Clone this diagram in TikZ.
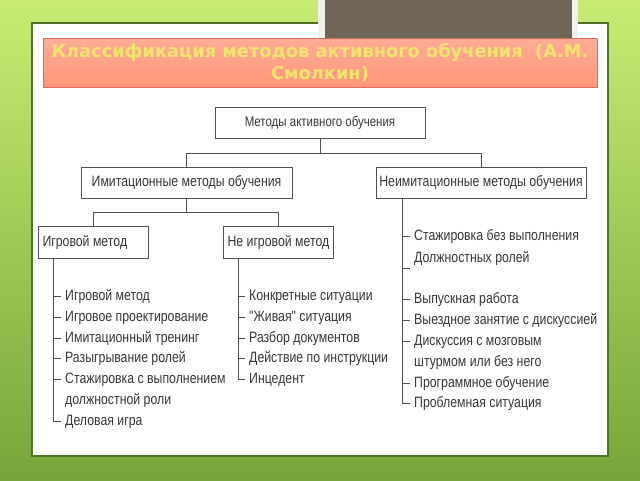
\documentclass[tikz,border=0pt]{standalone}
\usepackage{fontspec}
\setmainfont{Liberation Sans}
\newfontfamily\narrowfont{Liberation Sans}[FakeStretch=0.82]
\newfontfamily\titlefont{DejaVu Sans}
\definecolor{bgtop}{RGB}{200,236,115}
\definecolor{bgbot}{RGB}{118,166,58}
\definecolor{panelborder}{RGB}{80,115,40}
\definecolor{framewhite}{RGB}{242,242,236}
\definecolor{greybox}{RGB}{111,102,87}
\definecolor{titleborder}{RGB}{225,105,100}
\definecolor{titletop}{RGB}{255,172,150}
\definecolor{titlemid}{RGB}{255,205,180}
\definecolor{titlebot}{RGB}{255,150,122}
\definecolor{titletext}{RGB}{240,228,110}
\definecolor{txt}{RGB}{55,55,55}
\definecolor{boxline}{RGB}{80,80,80}
\begin{document}
\begin{tikzpicture}[x=1pt,y=-1pt,
  box/.style={draw=boxline, line width=0.8pt, fill=white, minimum height=31pt,
    inner sep=0pt, font=\narrowfont\fontsize{15}{17}\selectfont, text=txt},
  leftbox/.style={box, minimum width=110pt, minimum height=32pt},
  item/.style={anchor=west, inner xsep=4pt, inner ysep=0pt, text height=11pt,
    text depth=3pt, font=\narrowfont\fontsize{15}{17}\selectfont, text=txt},
  conn/.style={draw=boxline, line width=0.8pt}]
\useasboundingbox (0,0) rectangle (640,480);
\shade[top color=bgtop, bottom color=bgbot] (0,0) rectangle (640,480);
% panel
\draw[draw=panelborder, line width=1.2pt, fill=white] (32,23) rectangle (608,456);
% grey block at top
\fill[framewhite] (318,0) rectangle (578,40);
\fill[greybox] (325,0) rectangle (572,40);
% title
\node[draw=titleborder, line width=0.6pt, top color=titletop, middle color=titlemid,
  bottom color=titlebot, minimum width=554pt, minimum height=49pt, inner sep=0pt,
  align=center, text=titletext, font=\titlefont\bfseries\fontsize{17.8}{22.5}\selectfont]
  (title) at (320,62.5) {Классификация методов активного обучения\ \ (А.М.\\Смолкин)};
% boxes
\node[box, minimum width=210pt, font=\narrowfont\fontsize{14}{16}\selectfont] (root) at (320,122.5) {Методы активного обучения};
\node[box, minimum width=211pt] (imit) at (186.5,182.5) {Имитационные методы обучения};
\node[box, minimum width=210pt] (neimit) at (481,182.5) {Неимитационные методы обучения};
\node[leftbox] (igr) at (93,242) {\makebox[101pt][l]{Игровой метод}};
\node[leftbox] (neigr) at (278,242) {\makebox[101pt][l]{Не игровой метод}};
% tree connectors
\draw[conn] (root.south) -- ++(0,15) coordinate (j1);
\draw[conn] (imit.north) |- (j1) -| (neimit.north);
\draw[conn] (imit.south) -- ++(0,13.5) coordinate (j2);
\draw[conn] (igr.north) |- (j2) -| (neigr.north);
% list A
\coordinate (ta) at ([xshift=-40pt]igr.south);
\node[item] (a1) at (61,296) {Игровой метод};
\node[item] (a2) at (61,317) {Игровое проектирование};
\node[item] (a3) at (61,338) {Имитационный тренинг};
\node[item] (a4) at (61,358) {Разыгрывание ролей};
\node[item] (a5) at (61,379) {Стажировка с выполнением};
\node[item] (a6) at (61,400) {должностной роли};
\node[item] (a7) at (61,421) {Деловая игра};
\draw[conn] (ta) |- (a7.west);
\foreach \n in {a1,a2,a3,a4,a5} \draw[conn] (\n.west) -- (\n.west -| ta);
% list B
\coordinate (tb) at ([xshift=-40pt]neigr.south);
\node[item] (b1) at (245,296) {Конкретные ситуации};
\node[item] (b2) at (245,317) {"Живая" ситуация};
\node[item] (b3) at (245,338) {Разбор документов};
\node[item] (b4) at (245,358) {Действие по инструкции};
\node[item] (b5) at (245,379) {Инцедент};
\draw[conn] (tb) |- (b5.west);
\foreach \n in {b1,b2,b3,b4} \draw[conn] (\n.west) -- (\n.west -| tb);
% list C
\coordinate (tc) at ([xshift=-79pt]neimit.south);
\node[item] (c1) at (410,236) {Стажировка без выполнения};
\node[item] (c2) at (410,258) {Должностных ролей};
\coordinate (ct) at (410,268);
\node[item] (c3) at (410,299) {Выпускная работа};
\node[item] (c4) at (410,320) {Выездное занятие с дискуссией};
\node[item] (c5) at (410,341) {Дискуссия с мозговым};
\node[item] (c6) at (410,362) {штурмом или без него};
\node[item] (c7) at (410,383) {Программное обучение};
\node[item] (c8) at (410,403) {Проблемная ситуация};
\draw[conn] (tc) |- (c8.west);
\draw[conn] (ct) -- (ct -| tc);
\foreach \n in {c1,c3,c4,c5,c7} \draw[conn] (\n.west) -- (\n.west -| tc);
\end{tikzpicture}
\end{document}
